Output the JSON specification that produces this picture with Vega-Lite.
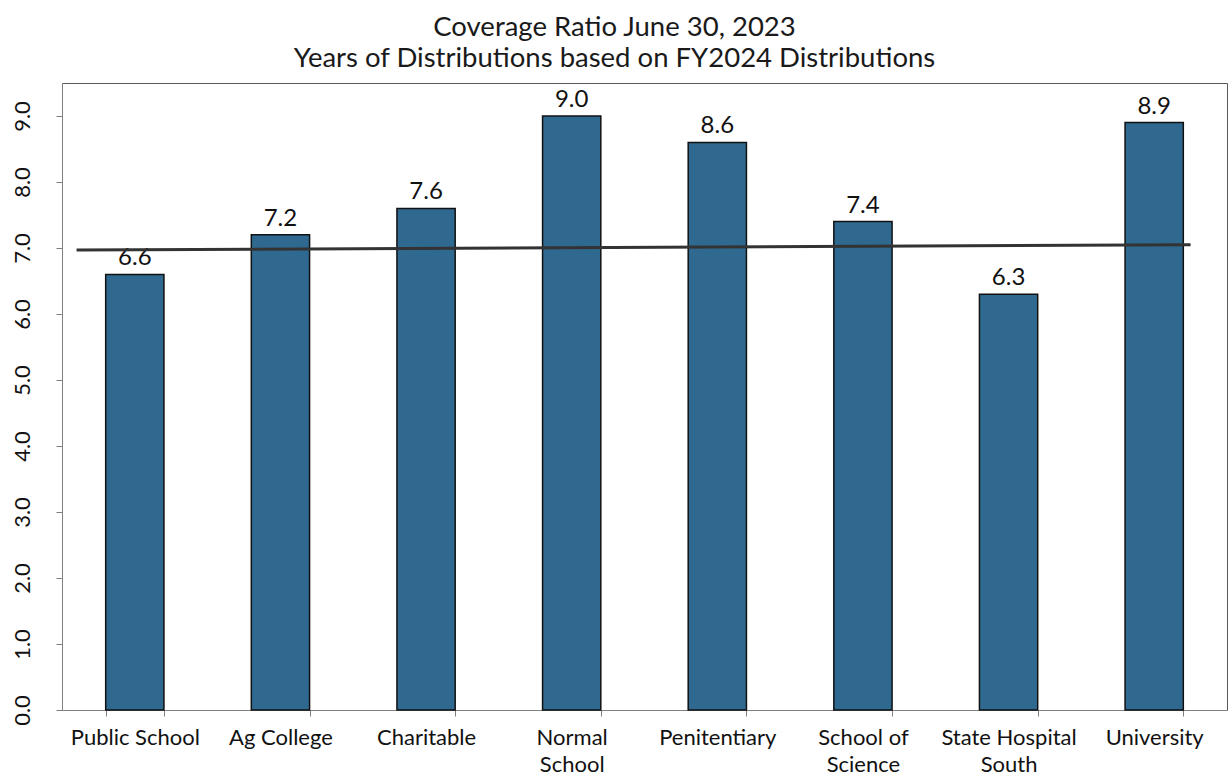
{
  "$schema": "https://vega.github.io/schema/vega-lite/v6.json",
  "autosize": {"type": "none"},
  "padding": {"left": 62, "top": 83, "right": 1, "bottom": 67},
  "width": 1165,
  "height": 627,
  "background": "white",
  "title": {
    "text": ["Coverage Ratio June 30, 2023", "Years of Distributions based on FY2024 Distributions"],
    "font": "Lato",
    "fontSize": 27.5,
    "fontWeight": "normal",
    "color": "#1a1a1a",
    "lineHeight": 31,
    "anchor": "middle",
    "dx": -30,
    "offset": 11
  },
  "config": {
    "view": {"stroke": "#595959", "strokeWidth": 1},
    "font": "Lato"
  },
  "datasets": {
    "bars": [
      {"fund": "Public School", "ratio": 6.6},
      {"fund": "Ag College", "ratio": 7.2},
      {"fund": "Charitable", "ratio": 7.6},
      {"fund": "Normal School", "ratio": 9.0},
      {"fund": "Penitentiary", "ratio": 8.6},
      {"fund": "School of Science", "ratio": 7.4},
      {"fund": "State Hospital South", "ratio": 6.3},
      {"fund": "University", "ratio": 8.9}
    ],
    "trend": [
      {"pos": 0.1, "level": 6.97},
      {"pos": 7.75, "level": 7.05}
    ]
  },
  "layer": [
    {
      "data": {"name": "bars"},
      "encoding": {
        "x": {
          "field": "fund",
          "type": "nominal",
          "sort": null,
          "scale": {"paddingInner": 0.6, "paddingOuter": 0.3},
          "axis": {
            "title": null,
            "labelAngle": 0,
            "labelFont": "Lato",
            "labelFontSize": 22,
            "labelColor": "#111111",
            "labelPadding": 11,
            "labelLineHeight": 27,
            "labelBaseline": "top",
            "labelExpr": "datum.label == 'Normal School' ? ['Normal', 'School'] : datum.label == 'School of Science' ? ['School of', 'Science'] : datum.label == 'State Hospital South' ? ['State Hospital', 'South'] : datum.label",
            "tickBand": "extent",
            "domainColor": "#808080",
            "tickColor": "#808080",
            "tickSize": 6
          }
        },
        "y": {
          "field": "ratio",
          "type": "quantitative",
          "scale": {"domain": [0, 9.5], "nice": false},
          "axis": {
            "title": null,
            "values": [0, 1, 2, 3, 4, 5, 6, 7, 8, 9],
            "format": ".1f",
            "labelAngle": -90,
            "labelAlign": "center",
            "labelBaseline": "bottom",
            "labelFont": "Lato",
            "labelFontSize": 22,
            "labelColor": "#111111",
            "labelPadding": 22,
            "grid": false,
            "domainColor": "#808080",
            "tickColor": "#808080",
            "tickSize": 6
          }
        }
      },
      "layer": [
        {
          "mark": {"type": "bar", "color": "#2f6990", "stroke": "#111111", "strokeWidth": 1.5}
        },
        {
          "mark": {"type": "text", "baseline": "alphabetic", "dy": -9, "fontSize": 24, "font": "Lato", "color": "#111111"},
          "encoding": {"text": {"field": "ratio", "type": "quantitative", "format": ".1f"}}
        }
      ]
    },
    {
      "data": {"name": "trend"},
      "mark": {"type": "line", "color": "#333333", "strokeWidth": 3},
      "encoding": {
        "x": {"field": "pos", "type": "quantitative", "scale": {"domain": [0, 8], "nice": false}, "axis": null},
        "y": {"field": "level", "type": "quantitative"}
      }
    }
  ],
  "resolve": {"scale": {"x": "independent"}}
}
